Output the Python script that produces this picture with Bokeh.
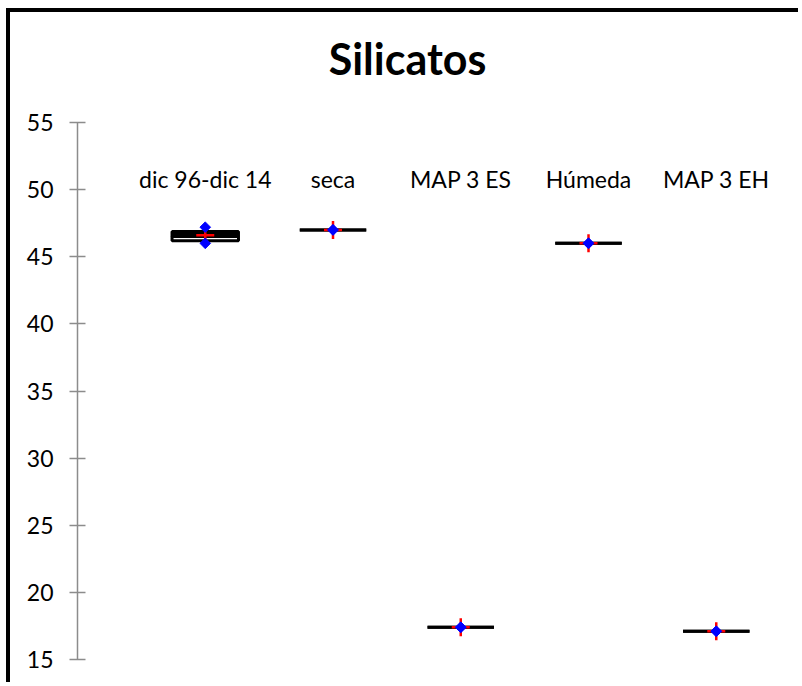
from bokeh.plotting import figure
from bokeh.models import Range1d, FixedTicker, Label, ColumnDataSource
from bokeh.core.properties import value
from bokeh.embed import file_html
from bokeh.resources import INLINE
import numpy as np

# Silicate concentration summary per period
categories = ["dic 96-dic 14", "seca", "MAP 3 ES", "Húmeda", "MAP 3 EH"]
positions = [1, 2, 3, 4, 5]
maximum = [47.2, 47.0, 17.4, 46.0, 17.1]
minimum = [46.0, 47.0, 17.4, 46.0, 17.1]
mean = [46.6, 47.0, 17.4, 46.0, 17.1]
q1 = [46.2, 47.0, 17.4, 46.0, 17.1]
median = [46.5, 47.0, 17.4, 46.0, 17.1]
q3 = [46.88, 47.0, 17.4, 46.0, 17.1]
y_ticks = [15, 20, 25, 30, 35, 40, 45, 50, 55]

FONT = "Lato"
half_w = 0.26
px_per_unit = 13.425          # vertical scale of the value axis
top_space = 110               # room above the axis for the title

src = ColumnDataSource(dict(
    x=positions,
    left=[p - half_w for p in positions],
    right=[p + half_w for p in positions],
    q1=q1, median=median, q3=q3,
    mean=mean, maximum=maximum, minimum=minimum,
    cat=categories,
))

y_top = y_ticks[-1] + top_space / px_per_unit

p = figure(
    width=792, height=674,
    x_range=Range1d(0, 5.675), y_range=Range1d(y_ticks[0], y_top),
    min_border_left=67, min_border_right=0,
    min_border_top=0, min_border_bottom=27,
    toolbar_location=None, output_backend="svg",
    outline_line_color=None,
    styles={"margin-left": "6px", "margin-top": "8px",
            "border-left": "4px solid black", "border-top": "4px solid black"},
)
p.xaxis.visible = False
p.xgrid.visible = False
p.ygrid.visible = False

ax = p.yaxis[0]
ax.ticker = FixedTicker(ticks=y_ticks)
ax.bounds = (y_ticks[0], y_ticks[-1])
ax.axis_line_color = "#8c8c8c"
ax.axis_line_width = 1.5
ax.major_tick_line_color = "#8c8c8c"
ax.major_tick_line_width = 1.5
ax.major_tick_in = 8
ax.major_tick_out = 8
ax.minor_tick_line_color = None
ax.major_label_standoff = 16
ax.major_label_text_font = FONT
ax.major_label_text_font_size = "23px"
ax.major_label_text_color = "black"

# boxes: median..q3 filled, q1..median hollow
p.quad(left="left", right="right", bottom="median", top="q3", source=src,
       fill_color="black", line_color="black", line_width=3)
p.quad(left="left", right="right", bottom="q1", top="median", source=src,
       fill_color="white", line_color="black", line_width=3)

# mean with error cross
p.scatter(x="x", y="mean", source=src, marker="cross", size=18,
          line_color="red", line_width=2.5)

# extremes
p.scatter(x="x", y="maximum", source=src, marker="square", size=7.5,
          angle=np.pi / 4, fill_color="blue", line_color="blue")
p.scatter(x="x", y="minimum", source=src, marker="square", size=7.5,
          angle=np.pi / 4, fill_color="blue", line_color="blue")

# category names
p.text(x="x", y=50.76, text="cat", source=src, text_align="center",
       text_baseline="alphabetic", text_font=value(FONT),
       text_font_size="23px", text_color="black")

title = Label(x=2.583, y=59.77, text="Silicatos", text_align="center",
              text_baseline="alphabetic", text_font=FONT,
              text_font_size="43px", text_font_style="bold", text_color="black")
p.add_layout(title)

open("out.html", "w").write(file_html(p, INLINE))
